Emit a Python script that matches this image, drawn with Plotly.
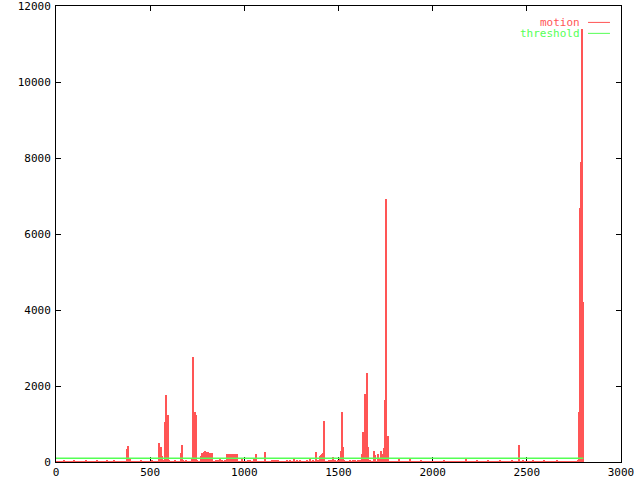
import plotly.graph_objects as go

# motion spikes: frame number and motion value
frames = [
    40, 95, 157, 216, 271, 310, 377, 382, 393, 451, 512,
    547, 552, 557, 563, 568, 579, 584, 589, 595, 600, 632,
    664, 669, 674, 690, 722, 727, 733, 738, 743, 748,
    770, 775, 781, 786, 791, 797, 802, 807, 813, 818, 823, 829,
    850, 860, 871, 882, 897,
    908, 913, 919, 924, 929, 935, 940, 945, 950, 961,
    988, 1020, 1030, 1051, 1062, 1110,
    1147, 1158, 1168, 1179, 1227, 1243, 1264, 1280, 1296, 1333, 1349, 1365,
    1381, 1391, 1402, 1407, 1413, 1418, 1423,
    1450, 1460, 1471, 1482, 1498, 1508, 1513, 1519, 1524, 1530,
    1561, 1577, 1588, 1604, 1614,
    1625, 1630, 1635, 1641, 1646, 1651, 1657, 1667,
    1689, 1694, 1710, 1715, 1726, 1731, 1736, 1742, 1747, 1752, 1757, 1763,
    1823, 1880, 1938, 2060, 2177, 2236, 2294, 2358, 2420, 2460, 2480,
    2533, 2592, 2660,
    2772, 2777, 2783, 2788, 2793, 2798,
]
motion = [
    60, 50, 40, 50, 40, 30, 340, 420, 80, 50, 50,
    500, 340, 395, 160, 50, 1060, 1770, 660, 1240, 60, 50,
    240, 450, 60, 50, 80, 2760, 740, 1310, 1240, 50,
    160, 230, 240, 260, 290, 260, 240, 260, 240, 240, 240, 240,
    50, 60, 100, 40, 40,
    200, 210, 220, 220, 210, 210, 210, 210, 210, 210,
    80, 50, 40, 80, 200, 260,
    40, 40, 40, 50, 40, 40, 80, 60, 50, 40, 80, 40,
    260, 50, 160, 190, 200, 240, 1080,
    60, 40, 130, 40, 50, 100, 290, 1310, 400, 50,
    50, 50, 40, 40, 40,
    210, 790, 190, 1790, 1790, 2340, 400, 40,
    290, 190, 210, 80, 290, 210, 80, 370, 1630, 6920, 100, 680,
    80, 80, 60, 60, 100, 60, 60, 60, 60, 450, 60,
    40, 60, 60,
    40, 1320, 6680, 7890, 11400, 4210,
]
threshold = 100
n_frames = 2800

x_ticks = [0, 500, 1000, 1500, 2000, 2500, 3000]
y_ticks = [0, 2000, 4000, 6000, 8000, 10000, 12000]

red = "#ff5555"
green = "#55ff55"
font = "DejaVu Sans Mono"

fig = go.Figure()

# impulses
fig.add_trace(go.Bar(
    x=frames, y=motion, width=5.3,
    marker=dict(color=red, line=dict(width=0)),
    showlegend=False,
))
# near-zero motion along the bottom for every frame
fig.add_trace(go.Scatter(
    x=[0, n_frames], y=[0, 0], mode="lines",
    line=dict(color=red, width=2), showlegend=False,
))
fig.add_trace(go.Scatter(
    x=[0, n_frames], y=[threshold, threshold], mode="lines",
    line=dict(color=green, width=1.5), showlegend=False,
))

# gnuplot-style key: text then sample line
fig.add_annotation(x=0.930, y=0.964, xref="paper", yref="paper", text="motion",
                   showarrow=False, xanchor="right", yanchor="middle", borderpad=0,
                   font=dict(family=font, size=11, color=red))
fig.add_annotation(x=0.930, y=0.940, xref="paper", yref="paper", text="threshold",
                   showarrow=False, xanchor="right", yanchor="middle", borderpad=0,
                   font=dict(family=font, size=11, color=green))
fig.add_shape(type="line", xref="paper", yref="paper", x0=0.9416, x1=0.9805,
              y0=0.964, y1=0.964, line=dict(color=red, width=1))
fig.add_shape(type="line", xref="paper", yref="paper", x0=0.9416, x1=0.9805,
              y0=0.940, y1=0.940, line=dict(color=green, width=1))

axis_style = dict(
    showgrid=False, zeroline=False, showline=True, linecolor="black", linewidth=1,
    mirror="ticks", ticks="inside", ticklen=5, tickcolor="black",
    tickfont=dict(family=font, size=11, color="black"),
    layer="below traces", automargin=False, tickformat="d",
    ticklabeloverflow="allow",
)
fig.update_xaxes(range=[0, 3000], tickvals=x_ticks, **axis_style)
fig.update_yaxes(range=[0, 12000], tickvals=y_ticks, ticklabelstandoff=2, **axis_style)

fig.update_layout(
    width=640, height=480,
    margin=dict(l=56, r=19, t=6, b=18),
    paper_bgcolor="white", plot_bgcolor="white",
    bargap=0, showlegend=False,
)

# drop the page's default body margin so the figure sits at the window corner
fig.write_html("out.html", config={"displayModeBar": False},
               post_script="document.body.style.margin='0';")
